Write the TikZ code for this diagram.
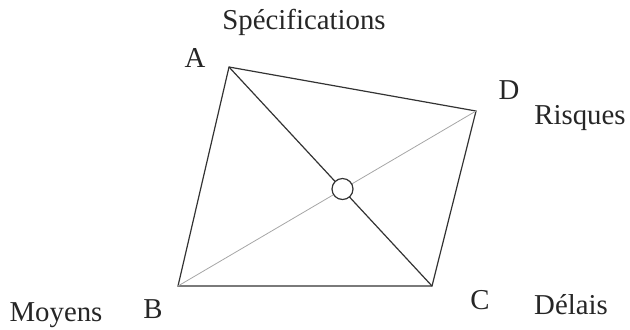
\documentclass[tikz,border=0pt]{standalone}
\usepackage{fontspec}
\setmainfont{Liberation Serif}
\begin{document}
\begin{tikzpicture}[
x=0.5pt, y=-0.5pt,
every node/.style={
font=\fontsize{14.4}{17}\selectfont,
text=black!85
},
edge/.style={line width=0.6pt, black!80},
faint/.style={line width=0.4pt, black!35}
]
\useasboundingbox (0,0) rectangle (630,329);

\coordinate (A) at (229,67);
\coordinate (D) at (476,111);
\coordinate (C) at (432,286);
\coordinate (B) at (178,286);

\node (Spec) at (304,22) {Spécifications};
\node (LA) at (195,58) {A};
\node (LD) at (509,90) {D};
\node (Ri) at (580,118) {Risques};
\node (LC) at (480,300) {C};
\node (De) at (571,305) {Délais};
\node (LB) at (153,309) {B};
\node (Mo) at (56,315) {Moyens};

\draw[edge] (A) -- (D) -- (C) -- (B) -- cycle;
\draw[edge] (A) -- (C);
\draw[faint] (B) -- (D);

\node[draw=black!80, circle, fill=white, line width=0.6pt, inner sep=0pt, minimum size=10.5pt] (O) at (342.5,189) {};

\end{tikzpicture}
\end{document}
